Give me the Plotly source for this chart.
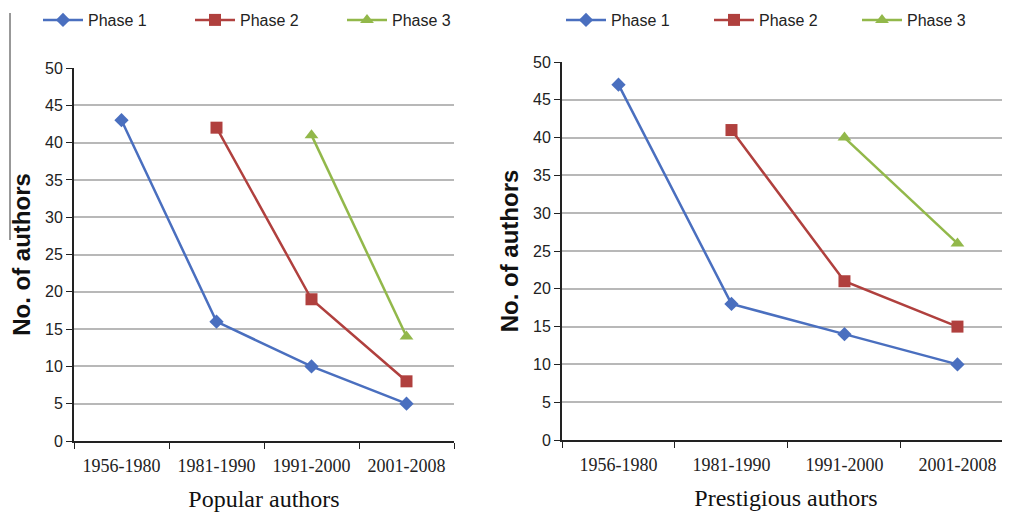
import plotly.graph_objects as go

categories = ["1956-1980", "1981-1990", "1991-2000", "2001-2008"]
series_names = ["Phase 1", "Phase 2", "Phase 3"]
popular_p1 = [43, 16, 10, 5]
popular_p2 = [None, 42, 19, 8]
popular_p3 = [None, None, 41, 14]
prestigious_p1 = [47, 18, 14, 10]
prestigious_p2 = [None, 41, 21, 15]
prestigious_p3 = [None, None, 40, 26]
y_ticks = [0, 5, 10, 15, 20, 25, 30, 35, 40, 45, 50]

colors = ["#4A6FBF", "#B0403E", "#92B84A"]
symbols = ["diamond", "square", "triangle-up"]
sizes = [11, 12, 12]

# page body has an 8px margin; figure fills the rest of the window
OFF = 8
W, H = 1010 - OFF, 512 - OFF


def px(x):
    return (x - OFF) / W


def py(y):
    return 1 - (y - OFF) / H


fig = go.Figure()


def add_series(vals_list, xa, ya, leg):
    for name, vals, c, s, sz in zip(series_names, vals_list, colors, symbols, sizes):
        fig.add_trace(go.Scatter(
            x=categories, y=vals, name=name, mode="lines+markers",
            line=dict(color=c, width=2.5), marker=dict(color=c, symbol=s, size=sz),
            xaxis=xa, yaxis=ya, legend=leg, connectgaps=False))


add_series([popular_p1, popular_p2, popular_p3], "x", "y", "legend")
add_series([prestigious_p1, prestigious_p2, prestigious_p3], "x2", "y2", "legend2")

tickfont = dict(family="Liberation Sans", size=16, color="#222")
catfont = dict(family="Liberation Serif", size=18, color="#222")
xtitlefont = dict(family="Liberation Serif", size=24, color="#111")
ytitlefont = dict(family="Liberation Sans", size=24, color="#111")
legfont = dict(family="Liberation Sans", size=16, color="#222")

xcommon = dict(type="category", showgrid=False, showline=True, linecolor="#222", linewidth=2,
               ticks="outside", tickson="boundaries", ticklen=6, tickcolor="#222",
               tickfont=catfont, ticklabelstandoff=7, zeroline=False, automargin=False)
ycommon = dict(range=[0, 50], tickvals=y_ticks, showgrid=True, gridcolor="#B8B8B8", gridwidth=1.5,
               showline=True, linecolor="#222", linewidth=2, ticks="outside", ticklen=6,
               tickcolor="#222", tickfont=tickfont, zeroline=False, automargin=False)

fig.update_layout(
    width=W, height=H, margin=dict(l=0, r=0, t=0, b=0, autoexpand=False),
    plot_bgcolor="white", paper_bgcolor="white",
    xaxis=dict(xcommon, domain=[px(74), px(454)], range=[-0.5, 3.5], anchor="y",
               title=dict(text="Popular authors", font=xtitlefont, standoff=16)),
    yaxis=dict(ycommon, domain=[py(441), py(68)], anchor="x",
               title=dict(text="<b>No. of authors</b>", font=ytitlefont, standoff=8)),
    xaxis2=dict(xcommon, domain=[px(562), 1.0], range=[-0.5, 3.465], anchor="y2",
                title=dict(text="Prestigious authors", font=xtitlefont, standoff=16)),
    yaxis2=dict(ycommon, domain=[py(440), py(62)], anchor="x2",
                title=dict(text="<b>No. of authors</b>", font=ytitlefont, standoff=8)),
    legend=dict(orientation="h", x=30 / W, y=py(20), xanchor="left", yanchor="middle",
                itemwidth=40, entrywidth=97, font=legfont,
                bgcolor="rgba(0,0,0,0)", itemclick=False),
    legend2=dict(orientation="h", x=553 / W, y=py(20), xanchor="left", yanchor="middle",
                 itemwidth=40, entrywidth=93, font=legfont,
                 bgcolor="rgba(0,0,0,0)", itemclick=False),
    shapes=[dict(type="line", xref="paper", yref="paper", x0=px(10), x1=px(10),
                 y0=py(13), y1=py(240), line=dict(color="#333", width=1))],
)

fig.write_html("out.html")
